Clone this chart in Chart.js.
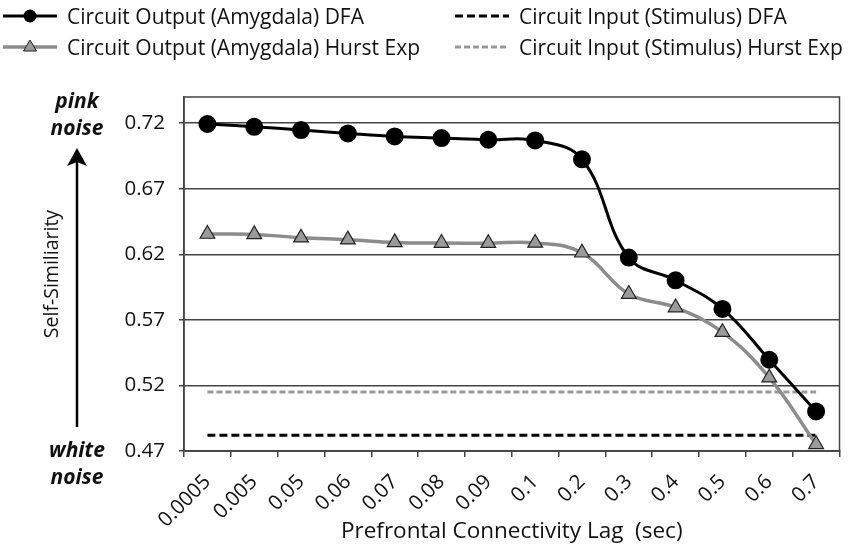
<!DOCTYPE html>
<html>
<head>
<meta charset="utf-8">
<script src="https://cdn.jsdelivr.net/npm/chart.js@4.4.1/dist/chart.umd.min.js"></script>
<style>
  body { margin: 0; background: #fff; }
  #wrap { position: relative; width: 850px; height: 551px; font-family: "Open Sans", sans-serif; color: #111; }
  #legend {
    position: absolute; left: 3px; top: 0;
    display: grid; grid-template-rows: 31px 31px; grid-template-columns: 452px auto;
    grid-auto-flow: column;
  }
  .item { display: flex; align-items: center; font-size: 21px; white-space: nowrap; }
  .item svg { margin-right: 10px; }
  .noise { position: absolute; left: 27px; width: 100px; text-align: center;
    font-weight: bold; font-style: italic; font-size: 21px; line-height: 27px; }
</style>
</head>
<body>
<div id="wrap">
  <canvas id="chart" width="850" height="551"></canvas>
  <div id="legend"></div>
  <div class="noise" style="top:87px">pink<br>noise</div>
  <div class="noise" style="top:436px">white<br>noise</div>
</div>
<script>
// Lag values on the x axis
const lags = ["0.0005", "0.005", "0.05", "0.06", "0.07", "0.08", "0.09", "0.1", "0.2", "0.3", "0.4", "0.5", "0.6", "0.7"];

// Amygdala output
const outputDFA = [0.7194, 0.7173, 0.7148, 0.7122, 0.7099, 0.7087, 0.7074, 0.7069, 0.6925, 0.6175, 0.6002, 0.5784, 0.5396, 0.5002];
const outputHurst = [0.6355, 0.6352, 0.6327, 0.6312, 0.6291, 0.6286, 0.6285, 0.6287, 0.6212, 0.5897, 0.5794, 0.5606, 0.5259, 0.4751];

// Stimulus input (flat over all lags)
const inputDFA = [0.482, 0.482, 0.482, 0.482, 0.482, 0.482, 0.482, 0.482, 0.482, 0.482, 0.482, 0.482, 0.482, 0.482];
const inputHurst = [0.515, 0.515, 0.515, 0.515, 0.515, 0.515, 0.515, 0.515, 0.515, 0.515, 0.515, 0.515, 0.515, 0.515];

// y tick labels
const yTicks = [0.47, 0.52, 0.57, 0.62, 0.67, 0.72];

const axisColor = "#444";
const textColor = "#111";

// Frame round the plot area plus the arrow on the left
const framePlugin = {
  id: "frame",
  beforeDatasetsDraw(chart) {
    const { ctx, chartArea: a } = chart;
    ctx.save();
    ctx.strokeStyle = axisColor;
    ctx.lineWidth = 1.5;
    ctx.strokeRect(a.left, a.top, a.right - a.left, a.bottom - a.top);
    ctx.restore();
  },
  afterDraw(chart) {
    const ctx = chart.ctx;
    ctx.save();
    ctx.strokeStyle = "#000";
    ctx.fillStyle = "#000";
    ctx.lineWidth = 2.5;
    ctx.beginPath();
    ctx.moveTo(77, 427);
    ctx.lineTo(77, 160);
    ctx.stroke();
    ctx.beginPath();
    ctx.moveTo(77, 148);
    ctx.lineTo(67, 166);
    ctx.lineTo(77, 162);
    ctx.lineTo(87, 166);
    ctx.closePath();
    ctx.fill();
    ctx.restore();
  },
};

const chart = new Chart(document.getElementById("chart"), {
  type: "line",
  data: {
    labels: lags,
    datasets: [
      {
        label: "Circuit Output (Amygdala) DFA",
        data: outputDFA,
        borderColor: "#000",
        borderWidth: 3,
        pointStyle: "circle",
        pointRadius: 7.5,
        pointBackgroundColor: "#000",
        pointBorderColor: "#000",
        tension: 0.4,
        clip: false,
      },
      {
        label: "Circuit Output (Amygdala) Hurst Exp",
        data: outputHurst,
        borderColor: "#8c8c8c",
        borderWidth: 3.5,
        pointStyle: "triangle",
        pointRadius: 8.5,
        pointBackgroundColor: "#9a9a9a",
        pointBorderColor: "#222",
        pointBorderWidth: 1.2,
        tension: 0.4,
        clip: false,
      },
      {
        label: "Circuit Input (Stimulus) DFA",
        data: inputDFA,
        borderColor: "#000",
        borderWidth: 3,
        borderDash: [8, 4],
        pointRadius: 0,
        pointStyle: false,
      },
      {
        label: "Circuit Input (Stimulus) Hurst Exp",
        data: inputHurst,
        borderColor: "#999",
        borderWidth: 3,
        borderDash: [6, 3],
        pointRadius: 0,
        pointStyle: false,
      },
    ],
  },
  options: {
    responsive: false,
    animation: false,
    layout: { padding: { top: 97, right: 5, left: 0, bottom: 0 } },
    plugins: { legend: { display: false }, tooltip: { enabled: false } },
    scales: {
      x: {
        offset: true,
        grid: { offset: true, drawOnChartArea: false, drawTicks: true, tickLength: 6, color: axisColor, lineWidth: 1.5 },
        border: { color: axisColor, width: 1.5 },
        ticks: {
          autoSkip: false, minRotation: 45, maxRotation: 45, padding: 13,
          color: textColor, font: { family: "Open Sans", size: 20.5 },
        },
        title: {
          display: true, text: "Prefrontal Connectivity Lag  (sec)",
          color: textColor, font: { family: "Open Sans", size: 22.5 },
          padding: { top: 0, bottom: 6 },
        },
        afterFit: (s) => { s.height = 100; },
      },
      y: {
        min: 0.47,
        max: 0.74,
        afterBuildTicks: (s) => { s.ticks = yTicks.map((v) => ({ value: v })); },
        grid: { color: axisColor, lineWidth: 1.5, tickLength: 5 },
        border: { color: axisColor, width: 1.5 },
        ticks: {
          padding: 14, color: textColor, font: { family: "Open Sans", size: 20.5 },
          callback: (v) => v.toFixed(2),
        },
        title: {
          display: true, text: "Self-Similiarity",
          color: textColor, font: { family: "Open Sans", size: 19.5 },
          padding: { top: 41, bottom: 0 },
        },
        afterFit: (s) => { s.width = 184; },
      },
    },
  },
  plugins: [framePlugin],
});

// HTML legend built from the datasets
function swatch(ds) {
  const ns = "http://www.w3.org/2000/svg";
  const svg = document.createElementNS(ns, "svg");
  svg.setAttribute("width", 54);
  svg.setAttribute("height", 20);
  const line = document.createElementNS(ns, "line");
  line.setAttribute("x1", 0); line.setAttribute("x2", 54);
  line.setAttribute("y1", 10); line.setAttribute("y2", 10);
  line.setAttribute("stroke", ds.borderColor);
  line.setAttribute("stroke-width", ds.borderWidth);
  if (ds.borderDash) line.setAttribute("stroke-dasharray", ds.borderDash.join(" "));
  svg.appendChild(line);
  if (ds.pointStyle === "circle") {
    const c = document.createElementNS(ns, "circle");
    c.setAttribute("cx", 27); c.setAttribute("cy", 10); c.setAttribute("r", 6.5);
    c.setAttribute("fill", ds.pointBackgroundColor);
    svg.appendChild(c);
  } else if (ds.pointStyle === "triangle") {
    const p = document.createElementNS(ns, "polygon");
    p.setAttribute("points", "27,3 33.5,14 20.5,14");
    p.setAttribute("fill", ds.pointBackgroundColor);
    p.setAttribute("stroke", ds.pointBorderColor);
    p.setAttribute("stroke-width", 1);
    svg.appendChild(p);
  }
  return svg;
}

const legendBox = document.getElementById("legend");
chart.data.datasets.forEach((ds) => {
  const item = document.createElement("div");
  item.className = "item";
  item.appendChild(swatch(ds));
  const span = document.createElement("span");
  span.textContent = ds.label;
  item.appendChild(span);
  legendBox.appendChild(item);
});
</script>
</body>
</html>
